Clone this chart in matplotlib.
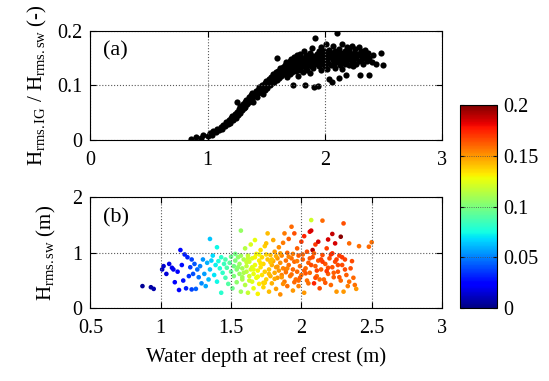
import numpy as np
import matplotlib
matplotlib.use("Agg")
import matplotlib.pyplot as plt

plt.rcParams['font.family'] = ['Liberation Serif', 'DejaVu Serif']
plt.rcParams['mathtext.fontset'] = 'custom'
plt.rcParams['mathtext.rm'] = 'Liberation Serif'
plt.rcParams['mathtext.it'] = 'Liberation Serif:italic'

# (a) depth vs Hrms,IG / Hrms,sw
depth_a = [0.86, 0.90, 0.94, 0.96, 1.00, 1.02, 1.04, 1.05, 1.07, 1.08, 1.10, 1.11, 1.12, 1.13, 1.15, 1.16, 1.17, 1.18, 1.19, 1.20,
           1.21, 1.22, 1.23, 1.24, 1.25, 1.25, 1.26, 1.27, 1.28, 1.28, 1.29, 1.30, 1.31, 1.32, 1.32, 1.33, 1.34, 1.35, 1.35, 1.36,
           1.37, 1.38, 1.38, 1.39, 1.40, 1.41, 1.42, 1.43, 1.43, 1.44, 1.45, 1.46, 1.46, 1.47, 1.48, 1.49, 1.49, 1.50, 1.50,
           1.51, 1.52, 1.52, 1.53, 1.54, 1.54, 1.55, 1.56, 1.56, 1.57, 1.58, 1.58, 1.59, 1.59, 1.60, 1.60, 1.61, 1.62, 1.62, 1.63,
           1.64, 1.64, 1.65, 1.66, 1.66, 1.67, 1.67, 1.68, 1.68, 1.69, 1.69, 1.70, 1.70, 1.70,
           1.71, 1.71, 1.72, 1.72, 1.73, 1.73, 1.74, 1.74, 1.75, 1.75, 1.76, 1.76, 1.77, 1.77, 1.78, 1.78, 1.79, 1.79, 1.80, 1.80,
           1.81, 1.81, 1.82, 1.82, 1.83, 1.83, 1.84, 1.84, 1.85, 1.85, 1.86, 1.86, 1.87, 1.87, 1.88, 1.88, 1.89, 1.89, 1.90, 1.90,
           1.91, 1.91, 1.92, 1.92, 1.93, 1.93, 1.94, 1.94, 1.95, 1.95, 1.96, 1.96, 1.97, 1.97, 1.98, 1.98, 1.99, 1.99, 2.00, 2.00,
           2.01, 2.01, 2.02, 2.02, 2.03, 2.03, 2.04, 2.04, 2.05, 2.05, 2.06, 2.06, 2.07, 2.07, 2.08, 2.08, 2.09, 2.09, 2.10, 2.10,
           2.11, 2.11, 2.12, 2.12, 2.13, 2.13, 2.14, 2.14, 2.15, 2.15, 2.16, 2.16, 2.17, 2.17, 2.18, 2.18, 2.19, 2.19, 2.20, 2.20,
           2.21, 2.21, 2.22, 2.22, 2.23, 2.23, 2.24, 2.24,
           2.25, 2.25, 2.26, 2.27, 2.27, 2.28, 2.29, 2.29, 2.30, 2.30, 2.31, 2.32, 2.33, 2.33, 2.34, 2.35, 2.36, 2.37, 2.38, 2.38,
           2.40, 2.41, 2.44, 2.48, 2.50]
ratio_a = [0.002, 0.006, 0.004, 0.010, 0.007, 0.013, 0.010, 0.017, 0.014, 0.020, 0.018, 0.024, 0.021, 0.028, 0.026, 0.033, 0.029, 0.036, 0.031, 0.040,
           0.044, 0.036, 0.048, 0.041, 0.052, 0.070, 0.045, 0.057, 0.050, 0.062, 0.055, 0.066, 0.058, 0.069, 0.061, 0.074, 0.066, 0.078, 0.070, 0.073,
           0.082, 0.076, 0.086, 0.070, 0.083, 0.090, 0.079, 0.092, 0.086, 0.097, 0.088, 0.094, 0.101, 0.085, 0.098, 0.104, 0.092, 0.100, 0.108,
           0.095, 0.105, 0.112, 0.100, 0.109, 0.116, 0.104, 0.112, 0.120, 0.107, 0.116, 0.124, 0.150, 0.110, 0.119, 0.127, 0.114, 0.122, 0.131, 0.117,
           0.126, 0.134, 0.120, 0.129, 0.137, 0.123, 0.142, 0.131, 0.115, 0.138, 0.126, 0.134, 0.145, 0.120,
           0.130, 0.148, 0.137, 0.124, 0.142, 0.100, 0.133, 0.151, 0.139, 0.127, 0.145, 0.156, 0.134, 0.118, 0.148, 0.140, 0.129, 0.158, 0.144, 0.136,
           0.150, 0.124, 0.141, 0.162, 0.133, 0.100, 0.147, 0.155, 0.138, 0.128, 0.152, 0.144, 0.160, 0.122, 0.136, 0.149, 0.142, 0.168, 0.154, 0.131,
           0.146, 0.097, 0.187, 0.139, 0.158, 0.150, 0.098, 0.143, 0.162, 0.135, 0.151, 0.145, 0.170, 0.128, 0.156, 0.140, 0.148, 0.163, 0.136, 0.153,
           0.145, 0.176, 0.158, 0.130, 0.150, 0.141, 0.165, 0.112, 0.154, 0.137, 0.107, 0.160, 0.147, 0.172, 0.140, 0.155, 0.132, 0.163, 0.195, 0.150,
           0.143, 0.158, 0.113, 0.167, 0.152, 0.138, 0.160, 0.145, 0.175, 0.130, 0.155, 0.148, 0.163, 0.140, 0.119, 0.157, 0.170, 0.146, 0.152, 0.160,
           0.137, 0.165, 0.149, 0.157, 0.143, 0.172, 0.153, 0.135,
           0.160, 0.148, 0.167, 0.152, 0.140, 0.158, 0.145, 0.170, 0.119, 0.155, 0.162, 0.148, 0.158, 0.140, 0.165, 0.152, 0.145, 0.160, 0.119, 0.150,
           0.143, 0.155, 0.140, 0.159, 0.137]

# (b) depth vs Hrms,sw, coloured by Hrms,IG / Hrms,sw
depth_b = [0.87, 0.93, 0.95,
           1.01, 1.02, 1.04, 1.06, 1.08, 1.09, 1.10, 1.12, 1.13, 1.14, 1.15, 1.16, 1.17, 1.18, 1.19, 1.20,
           1.21, 1.22, 1.22, 1.23, 1.24, 1.25, 1.26, 1.27, 1.28, 1.29, 1.30, 1.31, 1.32, 1.33, 1.34, 1.35, 1.35, 1.36, 1.37, 1.38,
           1.39, 1.40, 1.40,
           1.41, 1.42, 1.43, 1.43, 1.44, 1.45, 1.46, 1.46, 1.47, 1.48, 1.49, 1.50, 1.50, 1.51, 1.52, 1.52, 1.53, 1.54, 1.54, 1.55,
           1.56, 1.56, 1.57, 1.57, 1.58, 1.58, 1.59, 1.60, 1.60, 1.61, 1.61, 1.62, 1.62, 1.63, 1.63, 1.64, 1.64, 1.65, 1.65, 1.66,
           1.66, 1.67, 1.67, 1.68, 1.68, 1.69, 1.69, 1.70, 1.70, 1.71, 1.71, 1.72, 1.72, 1.73, 1.73, 1.74, 1.74, 1.75, 1.75, 1.76,
           1.76, 1.77, 1.77, 1.78, 1.78, 1.79, 1.79, 1.80, 1.80, 1.81, 1.81, 1.82, 1.82, 1.83, 1.83, 1.84, 1.84, 1.85, 1.85, 1.86,
           1.86, 1.87, 1.87, 1.88, 1.88, 1.89, 1.89, 1.90, 1.90,
           1.91, 1.91, 1.92, 1.93, 1.93, 1.94, 1.94, 1.95, 1.95, 1.96, 1.97, 1.97, 1.98, 1.98, 1.99, 2.00, 2.00, 2.01, 2.02, 2.02,
           2.03, 2.04, 2.04, 2.05, 2.06, 2.06, 2.07, 2.07, 2.08, 2.08, 2.09, 2.10, 2.10, 2.11, 2.12, 2.12, 2.13, 2.14, 2.15, 2.15,
           2.16, 2.17, 2.18, 2.19, 2.19, 2.20, 2.21, 2.22, 2.22, 2.23, 2.24, 2.24, 2.25, 2.26, 2.27, 2.28, 2.28, 2.29, 2.30, 2.30,
           2.31, 2.32, 2.33, 2.34, 2.34, 2.35, 2.36, 2.37, 2.38, 2.39, 2.41, 2.48, 2.50,
           1.57, 1.59, 1.61, 1.63, 1.65, 1.67, 1.69, 1.71, 1.73, 1.75, 1.77, 1.79, 1.81, 1.83, 1.85, 1.87, 1.89, 1.91, 1.93, 1.95,
           1.97, 1.99, 2.01, 2.03, 2.05, 2.07, 2.09, 2.11, 2.13, 2.15, 2.17, 2.19, 2.21, 2.23, 2.25, 2.27, 2.29, 2.31,
           1.53, 1.55, 1.58, 1.62, 1.66, 1.70, 1.74, 1.78, 1.82, 1.86, 1.90, 1.94, 1.98, 2.02, 2.06, 2.10, 2.14, 2.18, 2.22, 2.26]
hsw_b = [0.40, 0.38, 0.35,
         0.70, 0.76, 0.62, 0.80, 0.73, 0.70, 0.47, 0.66, 0.33, 1.05, 0.78, 0.50, 0.97, 0.36, 0.92, 0.58,
         0.74, 0.34, 0.88, 0.62, 0.80, 0.35, 0.70, 0.56, 0.76, 0.45, 0.88, 0.62, 0.40, 0.82, 0.52, 1.25, 0.70, 0.86, 0.95, 0.60,
         0.78, 1.10, 0.48,
         0.85, 0.72, 0.28, 0.92, 0.64, 0.80, 0.55, 0.88, 0.73, 0.44, 0.82, 0.66, 0.93, 0.36, 0.76, 0.58, 0.86, 0.70, 0.47, 0.92,
         0.62, 0.80, 1.40, 0.30, 0.72, 0.52, 0.88, 0.42, 1.08, 0.66, 0.76, 0.95, 0.28, 0.58, 0.84, 0.70, 1.15, 0.48, 0.90, 0.62,
         0.36, 1.23, 0.78, 0.55, 0.98, 0.68, 0.26, 0.86, 0.44, 0.74, 1.05, 0.60, 0.92, 0.38, 0.80, 0.66, 1.12, 0.52, 1.17, 0.88,
         1.35, 0.70, 0.30, 0.96, 0.58, 0.78, 0.45, 1.23, 0.85, 0.64, 1.02, 0.74, 0.35, 0.90, 0.55, 0.68, 1.10, 0.82, 0.25, 0.60,
         0.95, 0.72, 1.18, 1.35, 0.48, 0.86, 0.65, 0.40, 1.00,
         0.78, 1.25, 0.58, 1.47, 0.90, 0.32, 0.70, 1.35, 0.84, 0.52, 1.08, 0.66, 0.95, 0.40, 0.76, 1.20, 0.60, 0.88, 1.30, 0.28,
         0.72, 1.02, 0.50, 0.82, 1.38, 0.64, 1.59, 1.40, 1.05, 0.92, 0.45, 0.76, 1.15, 0.58, 1.20, 0.86, 0.36, 0.70, 1.58, 0.96,
         0.52, 0.80, 1.08, 1.24, 0.62, 0.90, 0.42, 1.34, 0.74, 0.56, 1.17, 0.84, 0.30, 0.66, 0.95, 1.29, 0.50, 0.78, 1.53, 0.30,
         0.88, 0.60, 0.40, 1.17, 0.48, 0.72, 0.85, 0.55, 0.42, 0.35, 1.12, 1.11, 1.19,
         0.95, 0.64, 0.83, 0.50, 0.74, 0.92, 0.57, 0.81, 0.46, 0.97, 0.62, 0.88, 0.53, 0.75, 0.99, 0.44, 0.70, 0.93, 0.61, 0.47,
         0.85, 0.55, 0.97, 0.63, 0.45, 0.78, 0.99, 0.68, 0.52, 0.84, 0.46, 0.73, 0.97, 0.64, 0.88, 0.56, 0.92, 0.70,
         0.98, 0.74, 0.56, 0.90, 0.70, 0.97, 0.46, 0.83, 0.94, 0.56, 0.72, 0.98, 0.50, 0.68, 0.90, 0.55, 0.88, 0.67, 0.99, 0.78]
ratio_b = [0.004, 0.006, 0.008,
           0.012, 0.014, 0.016, 0.018, 0.020, 0.020, 0.022, 0.024, 0.024, 0.026, 0.027, 0.028, 0.030, 0.030, 0.032, 0.034,
           0.036, 0.038, 0.038, 0.040, 0.042, 0.044, 0.046, 0.048, 0.050, 0.052, 0.054, 0.056, 0.058, 0.060, 0.062, 0.064, 0.064, 0.066, 0.068, 0.070,
           0.072, 0.074, 0.074,
           0.076, 0.078, 0.080, 0.080, 0.082, 0.084, 0.086, 0.088, 0.088, 0.090, 0.092, 0.094, 0.096, 0.096, 0.098, 0.100, 0.100, 0.102, 0.104, 0.104,
           0.106, 0.108, 0.106, 0.108, 0.110, 0.112, 0.112, 0.114, 0.114, 0.116, 0.116, 0.118, 0.118, 0.120, 0.120, 0.122, 0.122, 0.124, 0.124, 0.126,
           0.126, 0.126, 0.128, 0.128, 0.130, 0.130, 0.130, 0.132, 0.132, 0.134, 0.134, 0.134, 0.136, 0.136, 0.136, 0.138, 0.138, 0.138, 0.140, 0.140,
           0.142, 0.140, 0.142, 0.142, 0.144, 0.144, 0.144, 0.146, 0.146, 0.146, 0.148, 0.148, 0.148, 0.150, 0.150, 0.150, 0.152, 0.152, 0.152, 0.154,
           0.154, 0.154, 0.156, 0.156, 0.156, 0.158, 0.158, 0.158, 0.160,
           0.158, 0.162, 0.156, 0.160, 0.158, 0.150, 0.160, 0.165, 0.160, 0.158, 0.162, 0.160, 0.162, 0.155, 0.160, 0.170, 0.158, 0.162, 0.175, 0.150,
           0.160, 0.165, 0.158, 0.162, 0.180, 0.160, 0.120, 0.185, 0.190, 0.165, 0.175, 0.162, 0.170, 0.160, 0.185, 0.164, 0.165, 0.162, 0.160, 0.166,
           0.160, 0.164, 0.168, 0.185, 0.162, 0.166, 0.160, 0.188, 0.164, 0.162, 0.185, 0.166, 0.150, 0.164, 0.168, 0.198, 0.160, 0.166, 0.165, 0.150,
           0.168, 0.162, 0.155, 0.160, 0.158, 0.165, 0.166, 0.160, 0.158, 0.150, 0.158, 0.160, 0.158,
           0.108, 0.112, 0.118, 0.120, 0.124, 0.130, 0.128, 0.134, 0.138, 0.136, 0.142, 0.140, 0.146, 0.150, 0.148, 0.152, 0.156, 0.154, 0.158, 0.160,
           0.156, 0.162, 0.160, 0.164, 0.158, 0.166, 0.162, 0.168, 0.160, 0.170, 0.164, 0.166, 0.172, 0.162, 0.168, 0.164, 0.170, 0.166,
           0.098, 0.104, 0.110, 0.118, 0.126, 0.128, 0.136, 0.140, 0.146, 0.150, 0.154, 0.156, 0.160, 0.162, 0.164, 0.166, 0.168, 0.170, 0.172, 0.166]

fs = 14.5

fig = plt.figure(figsize=(5.49, 3.81), dpi=100)
ax1 = fig.add_axes([0.1647, 0.6325, 0.6404, 0.2869])
ax2 = fig.add_axes([0.1647, 0.1908, 0.6404, 0.2913])
cax = fig.add_axes([0.8379, 0.1908, 0.0668, 0.5336])

#Panel (a)
ax1.scatter(depth_a, ratio_a, s=20, c='k', linewidths=0)
ax1.set_xlim(0, 3)
ax1.set_ylim(0, 0.2)
ax1.set_xticks([0, 1, 2, 3])
ax1.set_yticks([0, 0.1, 0.2])
ax1.set_yticklabels(['0', '0.1', '0.2'])
ax1.set_ylabel(r'H$_{\mathrm{rms.IG}}$ / H$_{\mathrm{rms.sw}}$ (-)', fontsize=15, labelpad=6)
ax1.text(0.035, 0.9, '(a)', transform=ax1.transAxes, fontsize=16, va='top')

#Panel (b)
sc = ax2.scatter(depth_b, hsw_b, s=11, c=ratio_b, cmap='jet', vmin=0, vmax=0.2, linewidths=0)
ax2.set_xlim(0.5, 3)
ax2.set_ylim(0, 2)
ax2.set_xticks([0.5, 1, 1.5, 2, 2.5, 3])
ax2.set_xticklabels(['0.5', '1', '1.5', '2', '2.5', '3'])
ax2.set_yticks([0, 1, 2])
ax2.set_ylabel(r'H$_{\mathrm{rms.sw}}$ (m)', fontsize=15, labelpad=10)
ax2.set_xlabel('Water depth at reef crest (m)', fontsize=15, labelpad=6)
ax2.text(0.035, 0.9, '(b)', transform=ax2.transAxes, fontsize=16, va='top')

for ax in (ax1, ax2):
    ax.grid(True, color='0.35', linestyle=':', linewidth=0.8)
    ax.tick_params(direction='in', top=True, right=True, labelsize=fs, length=4)
    ax.tick_params(axis='x', pad=8)
    ax.tick_params(axis='y', pad=6)
    for sp in ax.spines.values():
        sp.set_linewidth(0.8)

#Colorbar
cb = fig.colorbar(sc, cax=cax, ticks=[0, 0.05, 0.1, 0.15, 0.2])
cb.ax.set_yticklabels(['0', '0.05', '0.1', '0.15', '0.2'])
cb.ax.tick_params(direction='in', labelsize=fs, length=3, left=True, right=True, pad=5)
for v in [0.05, 0.1, 0.15]:
    cb.ax.axhline(v, color='0.3', linestyle=':', linewidth=0.6)

fig.savefig('out.png', dpi=100)
